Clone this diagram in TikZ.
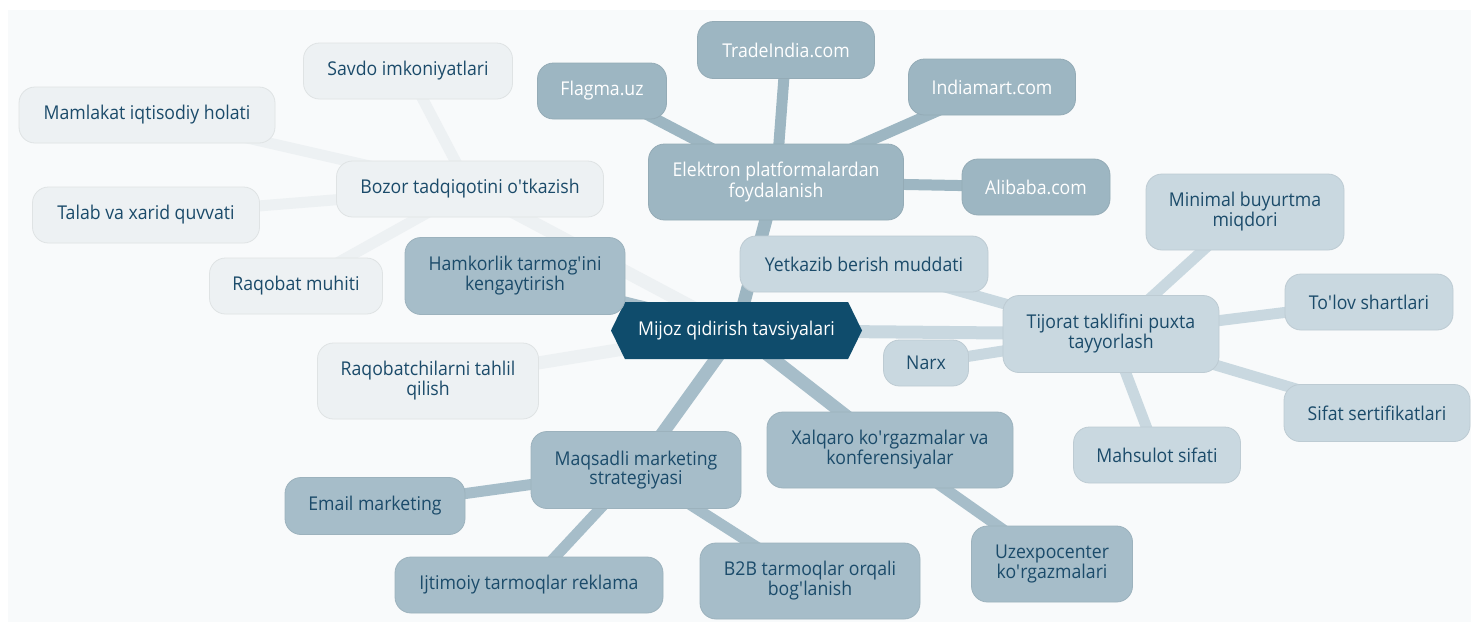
\documentclass[tikz,border=0pt]{standalone}
\usepackage{fontspec}
\setmainfont{Open Sans}[FakeStretch=0.93]
\usetikzlibrary{shapes.symbols}
\pgfdeclarelayer{bglayer}
\pgfdeclarelayer{edgelayer}
\pgfsetlayers{bglayer,edgelayer,main}
\definecolor{bgc}{HTML}{F8FAFB}
\definecolor{hexc}{HTML}{0F4C6C}
\definecolor{elc}{HTML}{9DB6C2}
\definecolor{mqc}{HTML}{A6BDC9}
\definecolor{tjc}{HTML}{C9D8E0}
\definecolor{bzc}{HTML}{EDF1F3}
\definecolor{txc}{HTML}{1B4B6A}
\newcommand{\ap}{\textquotesingle}
\tikzset{
  box/.style={rounded corners=16pt, inner sep=0pt, align=center,
    font=\fontsize{19}{18.6}\selectfont, draw=#1!94!black, line width=0.8pt, fill=#1},
  elbox/.style={box=elc, text=white},
  mqbox/.style={box=mqc, text=txc},
  tjbox/.style={box=tjc, text=txc},
  bzbox/.style={box=bzc, text=txc},
  sz/.style 2 args={minimum width=#1pt, minimum height=#2pt},
  mainlink/.style={line width=13pt, draw=#1},
  sublink/.style={line width=11pt, draw=#1},
}
\begin{document}
\begin{tikzpicture}[x=1pt,y=-1pt]
\useasboundingbox (0,0) rectangle (1471,622);
\begin{pgfonlayer}{bglayer}
\fill[bgc] (8,10) rectangle (1471,622);
\end{pgfonlayer}

\node[signal, signal to=east and west, signal pointer angle=128, fill=hexc, text=white,
  minimum width=251pt, minimum height=57pt, inner sep=0pt,
  font=\fontsize{19}{18.6}\selectfont] (center) at (736.5,330.5) {Mijoz qidirish tavsiyalari};

\node[bzbox, sz={209}{56}] (savdo) at (408,71) {Savdo imkoniyatlari};
\node[bzbox, sz={256}{56}] (mamlakat) at (147,115) {Mamlakat iqtisodiy holati};
\node[bzbox, sz={267}{56}] (bozor) at (470,189) {Bozor tadqiqotini o\ap tkazish};
\node[bzbox, sz={227}{56}] (talab) at (146,215) {Talab va xarid quvvati};
\node[bzbox, sz={173}{56}] (raqobat) at (296,286) {Raqobat muhiti};
\node[mqbox, sz={220}{77}] (hamkor) at (515,276) {Hamkorlik tarmog\ap ini\\kengaytirish};
\node[bzbox, sz={221}{76}] (raqtahlil) at (428,381) {Raqobatchilarni tahlil\\qilish};
\node[mqbox, sz={210}{77}] (maqsad) at (636,470) {Maqsadli marketing\\strategiyasi};
\node[mqbox, sz={180}{57}] (email) at (375,506) {Email marketing};
\node[mqbox, sz={268}{56}] (ijtimoiy) at (529,585) {Ijtimoiy tarmoqlar reklama};
\node[mqbox, sz={220}{76}] (b2b) at (810,581) {B2B tarmoqlar orqali\\bog\ap lanish};
\node[mqbox, sz={246}{76}] (xalqaro) at (890,450) {Xalqaro ko\ap rgazmalar va\\konferensiyalar};
\node[mqbox, sz={161}{76}] (uzexpo) at (1052,564) {Uzexpocenter\\ko\ap rgazmalari};
\node[elbox, sz={129}{56}] (flagma) at (602,91) {Flagma.uz};
\node[elbox, sz={177}{57}] (trade) at (786,50) {TradeIndia.com};
\node[elbox, sz={167}{56}] (india) at (992,87) {Indiamart.com};
\node[elbox, sz={255}{76}] (elektron) at (776,182) {Elektron platformalardan\\foydalanish};
\node[elbox, sz={148}{56}] (alibaba) at (1036,187) {Alibaba.com};
\node[tjbox, sz={248}{56}] (yetkazib) at (864,264) {Yetkazib berish muddati};
\node[tjbox, sz={198}{76}] (minimal) at (1245,212) {Minimal buyurtma\\miqdori};
\node[tjbox, sz={168}{56}] (tolov) at (1369,302) {To\ap lov shartlari};
\node[tjbox, sz={216}{77}] (tijorat) at (1111,334) {Tijorat taklifini puxta\\tayyorlash};
\node[tjbox, sz={85}{46}] (narx) at (926,363) {Narx};
\node[tjbox, sz={186}{57}] (sifat) at (1377,413) {Sifat sertifikatlari};
\node[tjbox, sz={167}{56}] (mahsulot) at (1157,455) {Mahsulot sifati};

\begin{pgfonlayer}{edgelayer}
\draw[mainlink=bzc] (center.center) -- (bozor.center);
\draw[mainlink=bzc] (center.center) -- (raqtahlil.center);
\draw[mainlink=mqc] (center.center) -- (hamkor.center);
\draw[mainlink=mqc] (center.center) -- (maqsad.center);
\draw[mainlink=mqc] (center.center) -- (xalqaro.center);
\draw[mainlink=elc] (center.center) -- (elektron.center);
\draw[mainlink=tjc] (center.center) -- (tijorat.center);
\draw[sublink=bzc] (bozor.center) -- (savdo.center);
\draw[sublink=bzc] (bozor.center) -- (mamlakat.center);
\draw[sublink=bzc] (bozor.center) -- (talab.center);
\draw[sublink=bzc] (bozor.center) -- (raqobat.center);
\draw[sublink=elc] (elektron.center) -- (flagma.center);
\draw[sublink=elc] (elektron.center) -- (trade.center);
\draw[sublink=elc] (elektron.center) -- (india.center);
\draw[sublink=elc] (elektron.center) -- (alibaba.center);
\draw[sublink=tjc] (tijorat.center) -- (yetkazib.center);
\draw[sublink=tjc] (tijorat.center) -- (minimal.center);
\draw[sublink=tjc] (tijorat.center) -- (tolov.center);
\draw[sublink=tjc] (tijorat.center) -- (narx.center);
\draw[sublink=tjc] (tijorat.center) -- (sifat.center);
\draw[sublink=tjc] (tijorat.center) -- (mahsulot.center);
\draw[sublink=mqc] (maqsad.center) -- (email.center);
\draw[sublink=mqc] (maqsad.center) -- (ijtimoiy.center);
\draw[sublink=mqc] (maqsad.center) -- (b2b.center);
\draw[sublink=mqc] (xalqaro.center) -- (uzexpo.center);
\end{pgfonlayer}
\end{tikzpicture}
\end{document}
